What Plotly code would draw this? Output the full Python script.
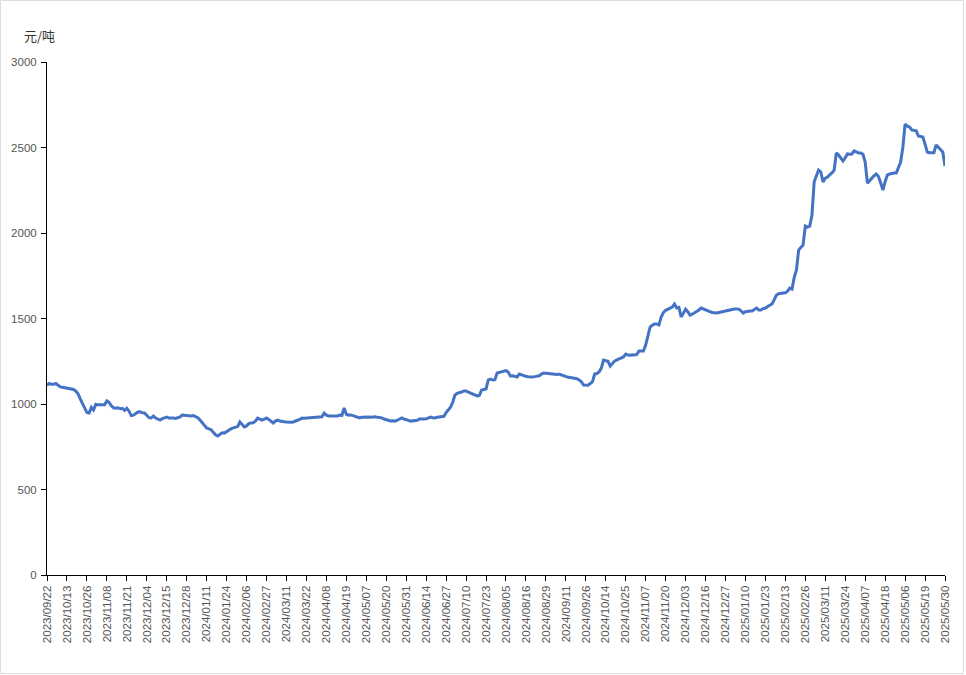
import pandas as pd
import plotly.graph_objects as go

# ---- data -------------------------------------------------------------
START_DATE = "2023-09-22"
END_DATE = "2025-05-30"
HOLIDAYS = [
    "2023-09-29", "2023-10-02", "2023-10-03", "2023-10-04", "2023-10-05", "2023-10-06",
    "2024-01-01",
    "2024-02-09", "2024-02-12", "2024-02-13", "2024-02-14", "2024-02-15", "2024-02-16",
    "2024-04-04", "2024-04-05",
    "2024-05-01", "2024-05-02", "2024-05-03",
    "2024-06-10",
    "2024-09-16", "2024-09-17",
    "2024-10-01", "2024-10-02", "2024-10-03", "2024-10-04", "2024-10-07",
    "2025-01-01",
    "2025-01-28", "2025-01-29", "2025-01-30", "2025-01-31", "2025-02-03", "2025-02-04",
    "2025-04-04",
    "2025-05-01", "2025-05-02", "2025-05-05",
]
EXTRA_DAYS = ["2024-09-29", "2024-10-12"]

TICK_LABELS = [
    "2023/09/22", "2023/10/13", "2023/10/26", "2023/11/08", "2023/11/21", "2023/12/04",
    "2023/12/15", "2023/12/28", "2024/01/11", "2024/01/24", "2024/02/06", "2024/02/27",
    "2024/03/11", "2024/03/22", "2024/04/08", "2024/04/19", "2024/05/07", "2024/05/20",
    "2024/05/31", "2024/06/14", "2024/06/27", "2024/07/10", "2024/07/23", "2024/08/05",
    "2024/08/16", "2024/08/29", "2024/09/11", "2024/09/26", "2024/10/14", "2024/10/25",
    "2024/11/07", "2024/11/20", "2024/12/03", "2024/12/16", "2024/12/27", "2025/01/10",
    "2025/01/23", "2025/02/13", "2025/02/26", "2025/03/11", "2025/03/24", "2025/04/07",
    "2025/04/18", "2025/05/06", "2025/05/19", "2025/05/30",
]

PRICES = [
    1110, 1120, 1115, 1115, 1120, 1110, 1100, 1098, 1095,
    1095, 1092, 1090, 1085, 1075, 1060, 1030, 1005, 975,
    950, 947, 980, 965, 998, 995, 995, 992, 996,
    1018, 1010, 990, 978, 975, 978, 972, 975, 962,
    975, 958, 932, 935, 945, 953, 955, 948, 947,
    930, 920, 918, 930, 918, 910, 906, 915, 920,
    924, 918, 920, 918, 916, 920, 925, 935, 933,
    935, 932, 930, 932, 928, 920, 906, 890, 870,
    860, 855, 850, 835, 820, 813, 822, 832, 830,
    840, 845, 855, 860, 862, 868, 895, 878, 866,
    872, 885, 889, 890, 900, 918, 912, 906, 912,
    918, 910, 900, 889, 900, 906, 900, 900, 896,
    895, 893, 894, 895, 898, 905, 910, 918, 917,
    918, 922, 924, 925, 923, 924, 926, 925, 947,
    935, 930, 930, 932, 929, 930, 935, 933, 977,
    940, 935, 936, 932, 928, 922, 918, 922, 924,
    925, 924, 922, 924, 925, 922, 920, 919, 912,
    908, 904, 901, 902, 900, 905, 912, 918, 912,
    906, 904, 900, 902, 900, 905, 912, 910, 912,
    913, 920, 924, 920, 918, 922, 924, 925, 928,
    950, 965, 982, 1010, 1053, 1062, 1064, 1070, 1076,
    1076, 1070, 1064, 1058, 1052, 1047, 1050, 1082, 1085,
    1088, 1140, 1145, 1140, 1142, 1181, 1185, 1190, 1193,
    1195, 1187, 1164, 1165, 1160, 1158, 1175, 1170, 1165,
    1162, 1160, 1158, 1158, 1160, 1162, 1165, 1175, 1181,
    1180, 1178, 1176, 1175, 1174, 1172, 1175, 1170, 1165,
    1158, 1156, 1155, 1152, 1152, 1148, 1140, 1130, 1111,
    1112, 1110, 1120, 1129, 1175, 1178, 1187, 1210, 1257,
    1255, 1250, 1222, 1240, 1251, 1258, 1265, 1269, 1275,
    1292, 1286, 1285, 1288, 1286, 1290, 1310, 1308, 1310,
    1345, 1390, 1450, 1460, 1468, 1468, 1462, 1509, 1535,
    1548, 1555, 1560, 1567, 1585, 1561, 1565, 1509, 1530,
    1555, 1540, 1520, 1525, 1532, 1540, 1550, 1561, 1555,
    1548, 1544, 1540, 1535, 1532, 1532, 1535, 1538, 1540,
    1544, 1548, 1552, 1555, 1555, 1556, 1555, 1545, 1532,
    1540, 1544, 1544, 1544, 1555, 1561, 1550, 1550, 1558,
    1561, 1570, 1579, 1585, 1610, 1637, 1645, 1649, 1649,
    1650, 1660, 1678, 1672, 1740, 1784, 1900, 1915, 1930,
    2041, 2035, 2040, 2105, 2300, 2339, 2368, 2357, 2298,
    2320, 2327, 2340, 2351, 2368, 2468, 2456, 2440, 2421,
    2440, 2462, 2460, 2462, 2480, 2472, 2468, 2468, 2460,
    2415, 2292, 2305, 2322, 2335, 2345, 2330, 2292, 2251,
    2300, 2339, 2345, 2350, 2351, 2351, 2380, 2415, 2503,
    2637, 2625, 2620, 2603, 2600, 2597, 2567, 2562, 2561,
    2520, 2474, 2470, 2468, 2470, 2515, 2500, 2490, 2474,
    2392,
]

Y_TICKS = [0, 500, 1000, 1500, 2000, 2500, 3000]
UNIT = "元/吨"

# ---- categories (working days) ----------------------------------------
days = pd.bdate_range(START_DATE, END_DATE)
days = days[~days.isin(pd.to_datetime(HOLIDAYS))]
days = days.union(pd.to_datetime(EXTRA_DAYS))
dates = [d.strftime("%Y/%m/%d") for d in days]
n = min(len(dates), len(PRICES))
dates = dates[:n]
prices = PRICES[:n]

W, H = 966, 675
L, R, T, B = 47, 21, 62, 100
pw = W - L - R
ph = H - T - B

fig = go.Figure()
fig.add_trace(go.Scatter(
    x=dates, y=prices, mode="lines",
    line=dict(color="#4472C4", width=3),
    hoverinfo="x+y", showlegend=False,
))

font_family = "Liberation Sans, Arial, sans-serif"
fig.update_layout(
    width=W, height=H,
    margin=dict(l=L, r=R, t=T, b=B, pad=0),
    paper_bgcolor="white", plot_bgcolor="white",
    font=dict(family=font_family, size=11, color="#555555"),
    xaxis=dict(
        type="category",
        range=[0, n - 1],
        tickmode="array",
        tickvals=TICK_LABELS,
        ticktext=TICK_LABELS,
        tickangle=-90,
        ticks="outside", ticklen=5, tickcolor="#000000", tickwidth=1,
        showline=True, linecolor="#000000", linewidth=1,
        showgrid=False, zeroline=False,
        tickfont=dict(size=11.5, color="#555555"),
        fixedrange=True,
    ),
    yaxis=dict(
        range=[0, 3000],
        tickmode="array",
        tickvals=Y_TICKS,
        ticks="outside", ticklen=5, tickcolor="#000000", tickwidth=1,
        showline=True, linecolor="#000000", linewidth=1,
        showgrid=False, zeroline=False,
        tickfont=dict(size=11.5, color="#555555"),
        ticklabelstandoff=2,
        fixedrange=True,
    ),
    annotations=[dict(
        text=UNIT, xref="paper", yref="paper",
        x=(22 - L) / pw, y=(H - B - 36) / ph,
        xanchor="left", yanchor="middle", showarrow=False,
        font=dict(family="Noto Sans CJK SC, sans-serif", size=13, color="#333333"),
    )],
    shapes=[dict(
        type="rect", xref="paper", yref="paper",
        x0=(0.5 - L) / pw, x1=(963.5 - L) / pw,
        y0=(H - B - 673.5) / ph, y1=(H - B - 0.5) / ph,
        line=dict(color="#DDDDDD", width=1), fillcolor="rgba(0,0,0,0)",
        layer="below",
    )],
)

fig.write_html(
    "out.html",
    config={"displayModeBar": False},
    post_script="document.body.style.margin='0';document.body.style.padding='0';document.body.style.overflow='hidden';",
)
